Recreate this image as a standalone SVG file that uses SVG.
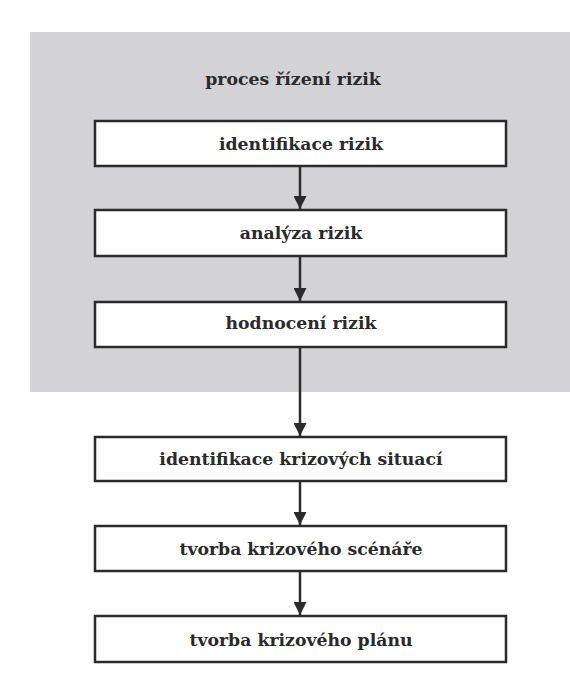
<svg xmlns="http://www.w3.org/2000/svg" width="570" height="682" viewBox="0 0 570 682">
  <style>
    .box { fill: #ffffff; stroke: #2b2b2b; stroke-width: 2.5; }
    .lbl { font-family: "DejaVu Serif", "Liberation Serif", serif; font-weight: bold; font-size: 17.3px; fill: #2a2a2a; text-anchor: middle; }
    .edge { stroke: #2b2b2b; stroke-width: 2.5; fill: none; marker-end: url(#arrow); }
  </style>
  <defs>
    <marker id="arrow" markerUnits="userSpaceOnUse" markerWidth="13" markerHeight="13" viewBox="0 0 13 13" refX="13" refY="6.5" orient="auto">
      <path d="M0,0 L13,6.5 L0,13 Z" fill="#2b2b2b"/>
    </marker>
  </defs>
  <rect width="570" height="682" fill="#ffffff"/>

  <!-- risk management process frame -->
  <g id="frame">
    <rect x="30" y="32" width="540" height="360" fill="#d3d3d5"/>
    <text class="lbl" x="293" y="85">proces řízení rizik</text>
  </g>

  <!-- connectors -->
  <g id="connectors">
    <line class="edge" x1="300" y1="167" x2="300" y2="209"/>
    <line class="edge" x1="300" y1="257" x2="300" y2="301"/>
    <line class="edge" x1="300" y1="348" x2="300" y2="436"/>
    <line class="edge" x1="300" y1="482" x2="300" y2="525"/>
    <line class="edge" x1="300" y1="572" x2="300" y2="615"/>
  </g>

  <g id="identifikace-rizik">
    <rect class="box" x="95" y="121" width="411" height="45"/>
    <text class="lbl" x="301" y="150">identifikace rizik</text>
  </g>
  <g id="analyza-rizik">
    <rect class="box" x="95" y="210" width="411" height="46"/>
    <text class="lbl" x="301" y="239">analýza rizik</text>
  </g>
  <g id="hodnoceni-rizik">
    <rect class="box" x="95" y="302" width="411" height="45"/>
    <text class="lbl" x="301" y="329">hodnocení rizik</text>
  </g>
  <g id="identifikace-krizovych-situaci">
    <rect class="box" x="95" y="437" width="411" height="44"/>
    <text class="lbl" x="301" y="465">identifikace krizových situací</text>
  </g>
  <g id="tvorba-krizoveho-scenare">
    <rect class="box" x="95" y="526" width="411" height="45"/>
    <text class="lbl" x="301" y="555">tvorba krizového scénáře</text>
  </g>
  <g id="tvorba-krizoveho-planu">
    <rect class="box" x="95" y="616" width="411" height="46"/>
    <text class="lbl" x="301" y="646">tvorba krizového plánu</text>
  </g>
</svg>
